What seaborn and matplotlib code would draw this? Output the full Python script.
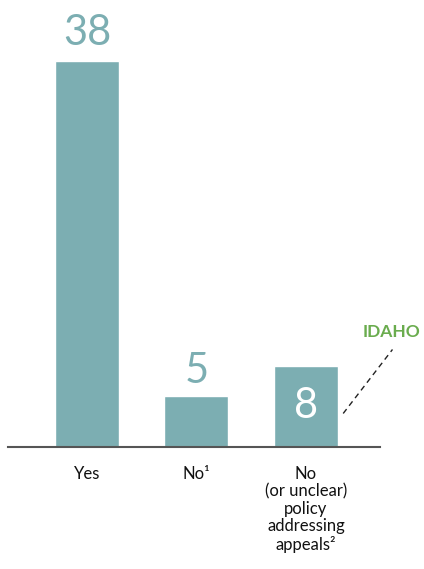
import matplotlib
matplotlib.use("Agg")
import matplotlib.pyplot as plt
import seaborn as sns
import pandas as pd

# data
categories = ["Yes", "No\u00b9", "No\n(or unclear)\npolicy\naddressing\nappeals\u00b2"]
counts = [38, 5, 8]

teal = "#7caeb2"
green = "#6aac4e"

sns.set_theme(style="white")
plt.rcParams["font.family"] = ["Lato", "DejaVu Sans"]

df = pd.DataFrame({"answer": categories, "states": counts})

fig = plt.figure(figsize=(4.24, 5.69), dpi=100)
ax = fig.add_axes([8 / 424, 122 / 569, 372 / 424, 447 / 569])

sns.barplot(data=df, x="answer", y="states", color=teal, saturation=1,
            width=0.585, ax=ax)

ax.set_xlim(-0.721, 2.676)
ax.set_ylim(0, 44)

# value labels
for i, v in enumerate(counts):
    if v < 7:
        ax.text(i, v + 0.6, str(v), ha="center", va="bottom", color=teal,
                fontsize=30)
    elif v < 20:
        ax.text(i, v / 2, str(v), ha="center", va="center", color="white",
                fontsize=30)
    else:
        ax.text(i, v + 0.9, str(v), ha="center", va="bottom", color=teal,
                fontsize=30)

# Idaho callout
ax.plot([2.34, 2.79], [3.3, 9.6], ls=(0, (4, 3)), color="#222222", lw=1,
        clip_on=False)
ax.text(2.785, 11.3, "IDAHO", ha="center", va="center", color=green,
        fontsize=12.5, fontweight="bold", clip_on=False)

for s in ["top", "right", "left"]:
    ax.spines[s].set_visible(False)
ax.spines["bottom"].set_color("#555555")
ax.spines["bottom"].set_linewidth(1.5)
ax.set_yticks([])
ax.set_xlabel("")
ax.set_ylabel("")
ax.tick_params(axis="x", length=0, pad=14, labelsize=12, colors="#111111")
for lab in ax.get_xticklabels():
    lab.set_linespacing(1.1)

fig.savefig("out.png", dpi=100)
